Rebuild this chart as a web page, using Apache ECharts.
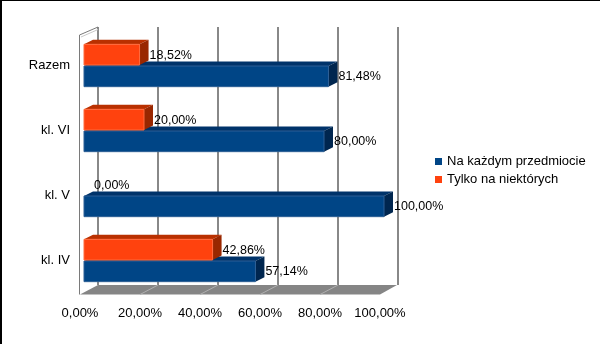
<!DOCTYPE html>
<html><head><meta charset="utf-8">
<script src="https://cdn.jsdelivr.net/npm/echarts@6/dist/echarts.min.js"></script>
<style>
html,body{margin:0;padding:0;background:#fff}
#wrap{position:relative;width:600px;height:344px}
#c{width:600px;height:344px}
#frame{position:absolute;left:0;top:0;width:600px;height:344px;box-sizing:border-box;border-top:1px solid #000;border-left:2px solid #000;pointer-events:none}
</style>
</head><body><div id="wrap"><div id="c"></div><div id="frame"></div></div><script>
const categories = ['kl. IV', 'kl. V', 'kl. VI', 'Razem'];
const seriesNames = ['Na każdym przedmiocie', 'Tylko na niektórych'];
const valuesEach = [57.14, 100, 80, 81.48];
const valuesSome = [42.86, 0, 20, 18.52];
const axisMin = 0, axisMax = 100, axisStep = 20;

const FONT = '"Liberation Sans", Arial, sans-serif';
const fmt = v => v.toFixed(2).replace('.', ',') + '%';

const palette = [
  {front: '#004586', top: '#00336a', side: '#00264f', edge: '#2d5f95'},
  {front: '#ff420e', top: '#b93000', side: '#992700', edge: '#ff6a3d'}
];
const DX = 9, DY = 4.5;

function barRenderer(si) {
  return function (params, api) {
    const v = api.value(0), ci = api.value(1);
    const band = api.size([0, 1])[1];
    const c0 = api.coord([axisMin, ci]);
    const x0 = c0[0], cy = c0[1];
    const h = band * 0.318;
    const y0 = si === 0 ? cy + 0.5 : cy - 0.5 - h;
    const y1 = y0 + h;
    const x1 = api.coord([v, ci])[0];
    const p = palette[si];
    const children = [];
    if (v > 0) {
      children.push({type: 'polygon', shape: {points: [[x0, y0], [x0 + DX, y0 - DY], [x1 + DX, y0 - DY], [x1, y0]]},
        style: {fill: p.top}});
      children.push({type: 'polygon', shape: {points: [[x1, y0], [x1 + DX, y0 - DY], [x1 + DX, y1 - DY], [x1, y1]]},
        style: {fill: p.side}});
      children.push({type: 'rect', shape: {x: x0, y: y0, width: x1 - x0, height: h},
        style: {fill: p.front, stroke: p.edge, lineWidth: 1}});
    }
    children.push({type: 'text', style: {text: fmt(v), x: x1 + 10, y: (y0 + y1) / 2 + 0.5,
      fill: '#000', font: '12.5px ' + FONT, align: 'left', verticalAlign: 'middle'}});
    return {type: 'group', children};
  };
}

function floorRenderer(params, api) {
  const yb = api.coord([axisMin, 0])[1];
  const x0 = api.coord([axisMin, 0])[0];
  const x1 = api.coord([axisMax, 0])[0];
  const yt = yb - 9.5;
  const WD = 18;
  const ch = [];
  ch.push({type: 'polygon', shape: {points: [[x0, yb], [x0 + WD, yt], [x1 + WD - 1, yt], [x1, yb]]},
    style: {fill: '#858585'}});
  for (let t = axisMin + axisStep; t < axisMax; t += axisStep) {
    const xf = api.coord([t, 0])[0];
    ch.push({type: 'line', shape: {x1: xf + WD, y1: yt, x2: xf, y2: yb}, style: {stroke: '#b0b0b0', lineWidth: 1}});
  }
  const topY = api.coord([axisMin, 1])[1];
  ch.push({type: 'polyline', shape: {points: [[x0 - 0.5, yb], [x0 - 0.5, topY + 8], [x0 + WD, topY]]},
    style: {stroke: '#7a7a7a', lineWidth: 1, fill: null}});
  ch.push({type: 'polyline', shape: {points: [[x0 + 1, topY + 10], [x0 + WD, topY + 2.5]]},
    style: {stroke: '#c8c8c8', lineWidth: 1, fill: null}});
  return {type: 'group', children: ch};
}

const chart = echarts.init(document.getElementById('c'), null, {renderer: 'canvas'});
chart.setOption({
  animation: false,
  backgroundColor: '#fff',
  textStyle: {fontFamily: FONT},
  legend: {
    data: seriesNames, orient: 'vertical', left: 435, top: 155, padding: 0,
    itemWidth: 7, itemHeight: 7, itemGap: 5, icon: 'rect',
    textStyle: {fontSize: 13, color: '#000', fontFamily: FONT}
  },
  grid: [
    {left: 84, top: 33, width: 300, height: 260},
    {left: 98, top: 27, width: 300, height: 258},
    {left: 80, top: 27, width: 300, height: 267.5}
  ],
  xAxis: [
    {gridIndex: 0, type: 'value', min: axisMin, max: axisMax, show: false},
    {gridIndex: 1, type: 'value', min: axisMin, max: axisMax, interval: axisStep,
      axisLine: {show: false}, axisTick: {show: false}, axisLabel: {show: false},
      splitLine: {show: true, lineStyle: {color: '#888', width: 2}}},
    {gridIndex: 2, type: 'value', min: axisMin, max: axisMax, interval: axisStep,
      axisLine: {show: false}, axisTick: {show: false}, splitLine: {show: false},
      axisLabel: {margin: 12, fontSize: 13, color: '#000', fontFamily: FONT, formatter: v => fmt(v)}}
  ],
  yAxis: [
    {gridIndex: 0, type: 'category', data: categories,
      axisLine: {show: false}, axisTick: {show: false}, splitLine: {show: false},
      axisLabel: {margin: 14, fontSize: 13, color: '#000', fontFamily: FONT}},
    {gridIndex: 1, type: 'value', show: false, min: 0, max: 1},
    {gridIndex: 2, type: 'value', show: false, min: 0, max: 1}
  ],
  series: [
    {type: 'custom', name: 'floor', xAxisIndex: 2, yAxisIndex: 2, z: 1, silent: true,
      renderItem: floorRenderer, data: [[0, 0]]},
    {type: 'custom', name: seriesNames[0], xAxisIndex: 0, yAxisIndex: 0, z: 3,
      itemStyle: {color: palette[0].front}, renderItem: barRenderer(0),
      encode: {x: 0, y: 1}, data: valuesEach.map((v, i) => [v, i])},
    {type: 'custom', name: seriesNames[1], xAxisIndex: 0, yAxisIndex: 0, z: 4,
      itemStyle: {color: palette[1].front}, renderItem: barRenderer(1),
      encode: {x: 0, y: 1}, data: valuesSome.map((v, i) => [v, i])}
  ]
});
</script></body></html>
